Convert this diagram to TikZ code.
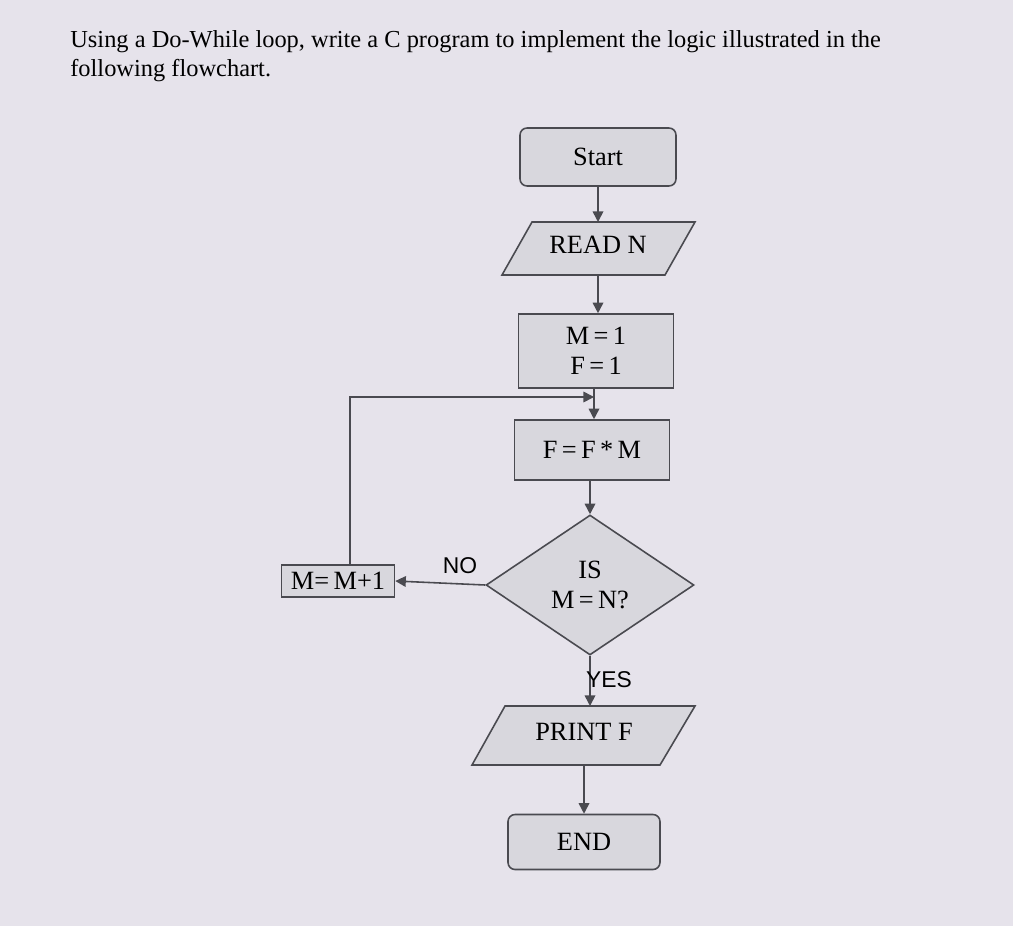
\documentclass[tikz,border=0pt]{standalone}
\usepackage{fontspec}
\setmainfont{Liberation Serif}
\newfontfamily\labsans{Liberation Sans}
\usetikzlibrary{shapes.geometric,arrows.meta}
\definecolor{bg}{HTML}{E6E3EB}
\definecolor{boxf}{HTML}{D8D7DD}
\definecolor{edge}{HTML}{4A4A50}
\tikzset{
  base/.style={draw=edge,line width=0.9pt,fill=boxf,font=\fontsize{15}{17}\selectfont,align=center},
  term/.style={base,rounded corners=4pt,minimum width=3.12cm,minimum height=1.16cm},
  proc/.style={base,minimum width=3.1cm,minimum height=1.2cm},
  shapeline/.style={draw=edge,line width=0.9pt,fill=boxf},
  txt/.style={font=\fontsize{15}{17}\selectfont,inner sep=1pt},
  dec/.style={base,diamond,minimum width=4.16cm,minimum height=2.8cm,inner sep=0pt},
  arr/.style={draw=edge,line width=0.9pt,-{Triangle[length=6pt,width=6pt]}},
  lab/.style={font=\labsans\fontsize{13}{15}\selectfont}
}
\begin{document}
\begin{tikzpicture}[x=0.02cm,y=-0.02cm]
\fill[bg] (0,0) rectangle (1013,926);
\useasboundingbox (0,0) rectangle (1013,926);
\node[anchor=north west,align=left,font=\fontsize{13.9}{16.5}\selectfont,inner sep=0pt] (title) at (70,30) {Using a Do-While loop, write a C program to implement the logic illustrated in the\\following flowchart.};
\node[term] (start) at (598,157) {Start};
\filldraw[shapeline] (502,275) -- (532,222) -- (695,222) -- (665,275) -- cycle;
\node[txt] (read) at (598,245) {READ N};
\coordinate (readtop) at (598,222);
\coordinate (readbot) at (598,275);
\node[proc,minimum height=1.48cm] (init) at (596,351) {M\,=\,1\\F\,=\,1};
\node[proc] (mult) at (592,450) {F\,=\,F\,*\,M};
\node[dec] (dec) at (590,585) {IS\\M\,=\,N?};
\node[base,minimum width=2.26cm,minimum height=0.64cm,inner sep=1pt] (inc) at (338,581) {M=\,M+1};
\filldraw[shapeline] (472,765) -- (505,706) -- (695,706) -- (660,765) -- cycle;
\node[txt] (print) at (584,732) {PRINT F};
\coordinate (printtop) at (590,706);
\coordinate (printbot) at (584,765);
\node[term,minimum width=3.04cm,minimum height=1.1cm] (end) at (584,842) {END};
\coordinate (join) at (594,397);
\coordinate (up) at (350,397);
\draw[arr] (start) -- (readtop);
\draw[arr] (readbot) -- (init.north -| readbot);
\draw[draw=edge,line width=0.9pt] (init.south -| join) -- (join);
\draw[arr] (join) -- (mult.north -| join);
\draw[arr] (mult.south -| dec.north) -- (dec);
\draw[arr] (dec.west) -- (inc.east);
\draw[arr] (inc.north -| up) -- (up) -- (join);
\draw[arr] (dec.south) -- (printtop);
\draw[arr] (printbot) -- (end);
\node[lab] (no) at (460,566) {NO};
\node[lab] (yes) at (609,680) {YES};
\end{tikzpicture}
\end{document}
